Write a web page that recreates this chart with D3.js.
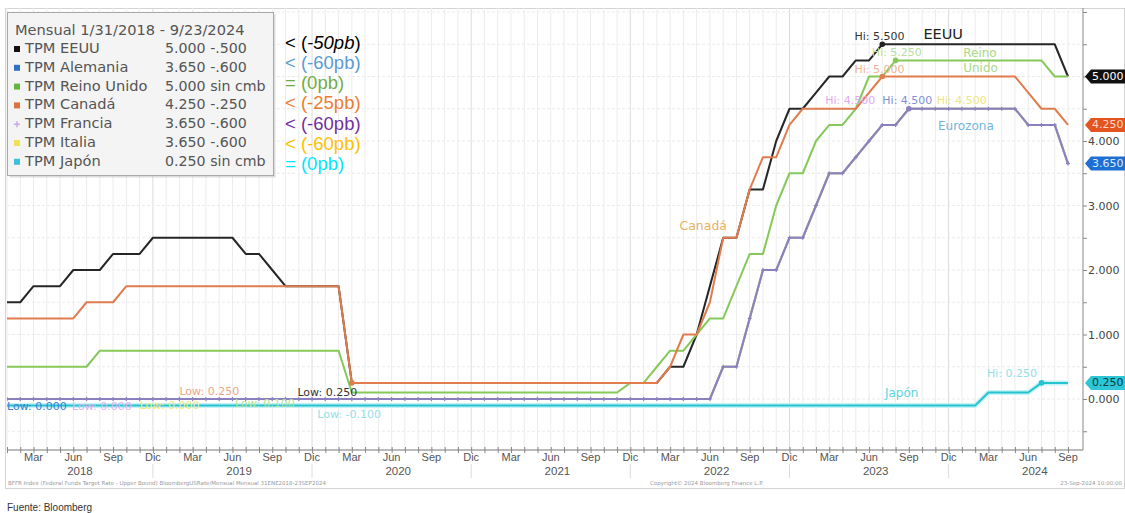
<!DOCTYPE html>
<html><head><meta charset="utf-8">
<script src="https://cdn.jsdelivr.net/npm/d3@7"></script>
<style>body{margin:0;background:#fff}svg{display:block}</style>
</head><body><svg id="c" width="1125" height="513"></svg>
<script>
// ---------- DATA (monthly, Jan 2018 .. Sep 2024) ----------
const monthNames = ["Ene","Feb","Mar","Abr","May","Jun","Jul","Ago","Sep","Oct","Nov","Dic"];
const firstYear = 2018;
const tickMonthLabels = ["Mar","Jun","Sep","Dic"];
const yearLabels = ["2018","2019","2020","2021","2022","2023","2024"];
const yTickValues = [0,1,2,3,4];
const yTickLabels = ["0.000","1.000","2.000","3.000","4.000"];

const usRate = [
 1.50,1.50,1.75,1.75,1.75,2.00,2.00,2.00,2.25,2.25,2.25,2.50,
 2.50,2.50,2.50,2.50,2.50,2.50,2.25,2.25,2.00,1.75,1.75,1.75,
 1.75,1.75,0.25,0.25,0.25,0.25,0.25,0.25,0.25,0.25,0.25,0.25,
 0.25,0.25,0.25,0.25,0.25,0.25,0.25,0.25,0.25,0.25,0.25,0.25,
 0.25,0.25,0.50,0.50,1.00,1.75,2.50,2.50,3.25,3.25,4.00,4.50,
 4.50,4.75,5.00,5.00,5.25,5.25,5.50,5.50,5.50,5.50,5.50,5.50,
 5.50,5.50,5.50,5.50,5.50,5.50,5.50,5.50,5.00];
const ecbRate = [
 0,0,0,0,0,0,0,0,0,0,0,0,
 0,0,0,0,0,0,0,0,0,0,0,0,
 0,0,0,0,0,0,0,0,0,0,0,0,
 0,0,0,0,0,0,0,0,0,0,0,0,
 0,0,0,0,0,0,0.50,0.50,1.25,2.00,2.00,2.50,
 2.50,3.00,3.50,3.50,3.75,4.00,4.25,4.25,4.50,4.50,4.50,4.50,
 4.50,4.50,4.50,4.50,4.50,4.25,4.25,4.25,3.65];
const ukRate = [
 0.50,0.50,0.50,0.50,0.50,0.50,0.50,0.75,0.75,0.75,0.75,0.75,
 0.75,0.75,0.75,0.75,0.75,0.75,0.75,0.75,0.75,0.75,0.75,0.75,
 0.75,0.75,0.10,0.10,0.10,0.10,0.10,0.10,0.10,0.10,0.10,0.10,
 0.10,0.10,0.10,0.10,0.10,0.10,0.10,0.10,0.10,0.10,0.10,0.25,
 0.25,0.50,0.75,0.75,1.00,1.25,1.25,1.75,2.25,2.25,3.00,3.50,
 3.50,4.00,4.25,4.25,4.50,5.00,5.00,5.25,5.25,5.25,5.25,5.25,
 5.25,5.25,5.25,5.25,5.25,5.25,5.25,5.00,5.00];
const caRate = [
 1.25,1.25,1.25,1.25,1.25,1.25,1.50,1.50,1.50,1.75,1.75,1.75,
 1.75,1.75,1.75,1.75,1.75,1.75,1.75,1.75,1.75,1.75,1.75,1.75,
 1.75,1.75,0.25,0.25,0.25,0.25,0.25,0.25,0.25,0.25,0.25,0.25,
 0.25,0.25,0.25,0.25,0.25,0.25,0.25,0.25,0.25,0.25,0.25,0.25,
 0.25,0.25,0.50,1.00,1.00,1.50,2.50,2.50,3.25,3.75,3.75,4.25,
 4.50,4.50,4.50,4.50,4.50,4.75,5.00,5.00,5.00,5.00,5.00,5.00,
 5.00,5.00,5.00,5.00,5.00,4.75,4.50,4.50,4.25];
const jpRate = [
 -0.10,-0.10,-0.10,-0.10,-0.10,-0.10,-0.10,-0.10,-0.10,-0.10,-0.10,-0.10,
 -0.10,-0.10,-0.10,-0.10,-0.10,-0.10,-0.10,-0.10,-0.10,-0.10,-0.10,-0.10,
 -0.10,-0.10,-0.10,-0.10,-0.10,-0.10,-0.10,-0.10,-0.10,-0.10,-0.10,-0.10,
 -0.10,-0.10,-0.10,-0.10,-0.10,-0.10,-0.10,-0.10,-0.10,-0.10,-0.10,-0.10,
 -0.10,-0.10,-0.10,-0.10,-0.10,-0.10,-0.10,-0.10,-0.10,-0.10,-0.10,-0.10,
 -0.10,-0.10,-0.10,-0.10,-0.10,-0.10,-0.10,-0.10,-0.10,-0.10,-0.10,-0.10,
 -0.10,-0.10,0.10,0.10,0.10,0.10,0.25,0.25,0.25];
const deRate = ecbRate, frRate = ecbRate, itRate = ecbRate;

const legendTitle = "Mensual 1/31/2018 - 9/23/2024";
const legendNames = ["TPM EEUU","TPM Alemania","TPM Reino Unido","TPM Canadá","TPM Francia","TPM Italia","TPM Japón"];
const legendValues = ["5.000 -.500","3.650 -.600","5.000 sin cmb","4.250 -.250","3.650 -.600","3.650 -.600","0.250 sin cmb"];
const legendColors = ["#111111","#2f6fc4","#62b83e","#d9733f","#c9a8e6","#efe25a","#3cc1dc"];
const changeLabels = ["< (-50pb)","< (-60pb)","= (0pb)","< (-25pb)","< (-60pb)","< (-60pb)","= (0pb)"];
const changeColors = ["#000000","#5b9bd5","#70ad47","#ed7d31","#7030a0","#ffc000","#00e5ff"];

// ---------- SCALES ----------
const svg=d3.select("#c");
const nPts = usRate.length;
const x=d3.scaleLinear().domain([0,nPts-1]).range([7,1068]);
const y=d3.scaleLinear().domain([0,5]).range([399,76.5]);
const plotL=7, plotR=1083, plotT=8, plotB=450;

// frame
svg.append("rect").attr("x",5.5).attr("y",8.5).attr("width",1119).attr("height",480)
  .attr("fill","#fff").attr("stroke","#d4d4d4");

// grid
const g=svg.append("g");
d3.range(nPts).forEach(i=>{
  g.append("line").attr("x1",x(i)).attr("x2",x(i)).attr("y1",plotT).attr("y2",plotB)
   .attr("stroke", (i%12===11)?"#dcdcdc":"#ececec").attr("stroke-width",1);
});
d3.range(-0.5,6.01,0.5).forEach(v=>{
  g.append("line").attr("x1",plotL).attr("x2",plotR).attr("y1",y(v)).attr("y2",y(v))
   .attr("stroke","#ebebeb").attr("stroke-dasharray", "3,2");
});

// right axis (5.000 label is covered by the value tag)
const ax=d3.axisRight(y).tickValues(d3.range(-0.5,6.01,0.5)).tickSize(4)
  .tickFormat(v=>{const k=yTickValues.indexOf(v);return k>=0?yTickLabels[k]:"";});
const ra=svg.append("g").attr("transform",`translate(${plotR},0)`).call(ax);
ra.select(".domain").attr("d",`M0,${plotT}V${plotB}`).attr("stroke","#888");
ra.selectAll("line").attr("stroke","#888");
ra.selectAll("text").attr("font-family","DejaVu Sans").attr("font-size",11).attr("fill","#444").attr("x",5);

// bottom axis
const bx=d3.axisBottom(x).tickValues(d3.range(nPts)).tickSize(3).tickFormat(()=>"");
const ba=svg.append("g").attr("transform",`translate(0,${plotB})`).call(bx);
ba.select(".domain").attr("d",`M${plotL},0H${plotR}`).attr("stroke","#777");
ba.selectAll("line").attr("stroke","#888").attr("y1",-3);
d3.range(nPts).filter(i=>i%3===2).forEach(i=>{
  svg.append("text").attr("x",x(i)).attr("y",461).attr("text-anchor","middle")
   .attr("font-family","Liberation Sans").attr("font-size",11).attr("fill","#555")
   .text(monthNames[i%12]);
});
yearLabels.forEach((t,k)=>{
  const i=k*12+5.5;
  svg.append("text").attr("x",x(i)).attr("y",475).attr("text-anchor","middle")
   .attr("font-family","Liberation Sans").attr("font-size",11.5).attr("fill","#555").text(t);
  if(k<yearLabels.length-1){
    svg.append("line").attr("x1",x(k*12+11)).attr("x2",x(k*12+11)).attr("y1",464).attr("y2",478)
     .attr("stroke","#ddd");
  }
});

// series
svg.append("clipPath").attr("id","pc").append("rect")
  .attr("x",plotL).attr("y",plotT).attr("width",plotR-plotL).attr("height",plotB-plotT);
const lines=svg.append("g").attr("clip-path","url(#pc)");
const lineGen=d3.line().x((d,i)=>x(i)).y(d=>y(d));
function drawLine(data,color,w){
  lines.append("path").datum(data).attr("d",lineGen).attr("fill","none")
   .attr("stroke",color).attr("stroke-width",w).attr("stroke-linejoin","round");
}
drawLine(usRate,"#262626",2);
drawLine(deRate,"#4d7fd0",2);
drawLine(ukRate,"#86c95a",2);
drawLine(caRate,"#e07c4e",2);
drawLine(itRate,"#eee070",2);
drawLine(frRate,"#8b80bf",2);
frRate.forEach((v,i)=>{
  lines.append("path").attr("d",`M${x(i)-2},${y(v)}H${x(i)+2}M${x(i)},${y(v)-2}V${y(v)+2}`)
   .attr("stroke","#8b80bf").attr("stroke-width",1.2);
});
lines.append("path").datum(jpRate).attr("d",lineGen).attr("fill","none")
  .attr("stroke","#c6f2f6").attr("stroke-width",5);
drawLine(jpRate,"#25c3cf",2);

// hi/low dots
[[usRate,66,"#222"],[ukRate,67,"#86c95a"],[caRate,66,"#e07c4e"],[frRate,68,"#8b80bf"],[jpRate,78,"#25c3cf"],[caRate,26,"#e07c4e"]]
 .forEach(([d,i,c])=>{
  lines.append("circle").attr("cx",x(i)).attr("cy",y(d[i])).attr("r",2.8).attr("fill",c);
 });

// annotations (positions in data coords)
const notes=[
 ["Hi: 5.500",63.9,5.61,"#333",11],["EEUU",69.1,5.64,"#222",14.5],
 ["Hi: 5.250",65.2,5.36,"#b9e09a",11],["Reino",72.1,5.36,"#a9d886",12],
 ["Hi: 5.000",63.9,5.10,"#f2b496",11],["Unido",72.1,5.12,"#a9d886",12],
 ["Hi: 4.500",61.7,4.62,"#dfa9ef",11],["Hi: 4.500",66.0,4.62,"#7f8fd8",11],["Hi: 4.500",70.1,4.62,"#efe57e",11],
 ["Eurozona",70.2,4.23,"#6eb6e0",12],["Canadá",50.7,2.67,"#e9b161",12.5],
 ["Japón",66.2,0.08,"#5ad6e0",12],["Hi: 0.250",73.9,0.39,"#93e0e8",11],
 ["Low: 0.000",0,-0.125,"#3b7fd2",11],["Low: 0.000",4.9,-0.125,"#dcb4f2",11],["Low: 0.000",10.0,-0.11,"#f0e87a",11],
 ["Low: 0.250",13.0,0.11,"#f0a584",11],["Low: 0.100",17.2,-0.08,"#b6e29a",11],
 ["Low: 0.250",21.9,0.09,"#333",11],["Low: -0.100",23.4,-0.25,"#93e0e8",11]
];
notes.forEach(([t,i,v,c,fs])=>{
  svg.append("text").attr("x",x(i)).attr("y",y(v)).attr("dominant-baseline","middle")
   .attr("font-family","DejaVu Sans").attr("font-size",fs).attr("fill",c).text(t);
});

// value tags on right axis
[[usRate,"#111","#fff"],[caRate,"#e4541f","#ffd7c8"],[deRate,"#1f6fd2","#dbe9ff"],[jpRate,"#2cc6d6","#0b3b44"]]
 .forEach(([d,bg,fg])=>{
  const yy=y(d[d.length-1]);
  svg.append("path").attr("d",`M1085,${yy}L1091,${yy-7}H1125V${yy+7}H1091Z`).attr("fill",bg);
  svg.append("text").attr("x",1092).attr("y",yy).attr("dominant-baseline","middle")
   .attr("font-family","DejaVu Sans").attr("font-size",11).attr("fill",fg).text(d[d.length-1].toFixed(3));
 });

// legend
const lg=svg.append("g");
lg.append("rect").attr("x",9.5).attr("y",14.5).attr("width",266).attr("height",163)
  .attr("fill","#bbb").attr("opacity",0.5);
lg.append("rect").attr("x",7.5).attr("y",12.5).attr("width",266).attr("height",163)
  .attr("fill","#f4f4f4").attr("stroke","#a9a9a9");
lg.append("text").attr("x",15).attr("y",31).attr("dominant-baseline","middle")
  .attr("font-family","DejaVu Sans").attr("font-size",14.6).attr("fill","#555").text(legendTitle);
legendNames.forEach((n,k)=>{
  const yy=49+k*18.8;
  if(k===4){
    lg.append("path").attr("d",`M14,${yy}h6M17,${yy-3}v6`).attr("stroke",legendColors[k]).attr("stroke-width",1.5);
  } else {
    lg.append("rect").attr("x",14).attr("y",yy-3).attr("width",6).attr("height",6).attr("fill",legendColors[k]);
  }
  lg.append("text").attr("x",25).attr("y",yy).attr("dominant-baseline","middle")
   .attr("font-family","DejaVu Sans").attr("font-size",14.6).attr("fill","#555").text(n);
  lg.append("text").attr("x",165).attr("y",yy).attr("dominant-baseline","middle")
   .attr("font-family","DejaVu Sans").attr("font-size",14.2).attr("fill","#555").text(legendValues[k]);
});
changeLabels.forEach((t,k)=>{
  const yy=43.5+k*20.3;
  const tx=svg.append("text").attr("x",285).attr("y",yy).attr("dominant-baseline","middle")
   .attr("font-family","Liberation Sans").attr("font-size",18.5).attr("fill",changeColors[k]);
  if(k===0){
    tx.append("tspan").text("< (");
    tx.append("tspan").attr("font-style","italic").text("-50pb");
    tx.append("tspan").text(")");
  } else tx.text(t);
});

// footer
svg.append("text").attr("x",8).attr("y",485).attr("font-family","DejaVu Sans").attr("font-size",5.5).attr("fill","#999")
  .text("BFFR Index (Federal Funds Target Rate - Upper Bound) BloombergUSRate/Mensual   Mensual 31ENE2018-23SEP2024");
svg.append("text").attr("x",650).attr("y",485).attr("font-family","DejaVu Sans").attr("font-size",5.5).attr("fill","#999")
  .text("Copyright© 2024 Bloomberg Finance L.P.");
svg.append("text").attr("x",1122).attr("y",485).attr("text-anchor","end").attr("font-family","DejaVu Sans").attr("font-size",5.5).attr("fill","#999")
  .text("23-Sep-2024 10:00:00");
svg.append("text").attr("x",7).attr("y",511).attr("font-family","Liberation Sans").attr("font-size",10).attr("fill","#333")
  .text("Fuente: Bloomberg");
</script></body></html>
